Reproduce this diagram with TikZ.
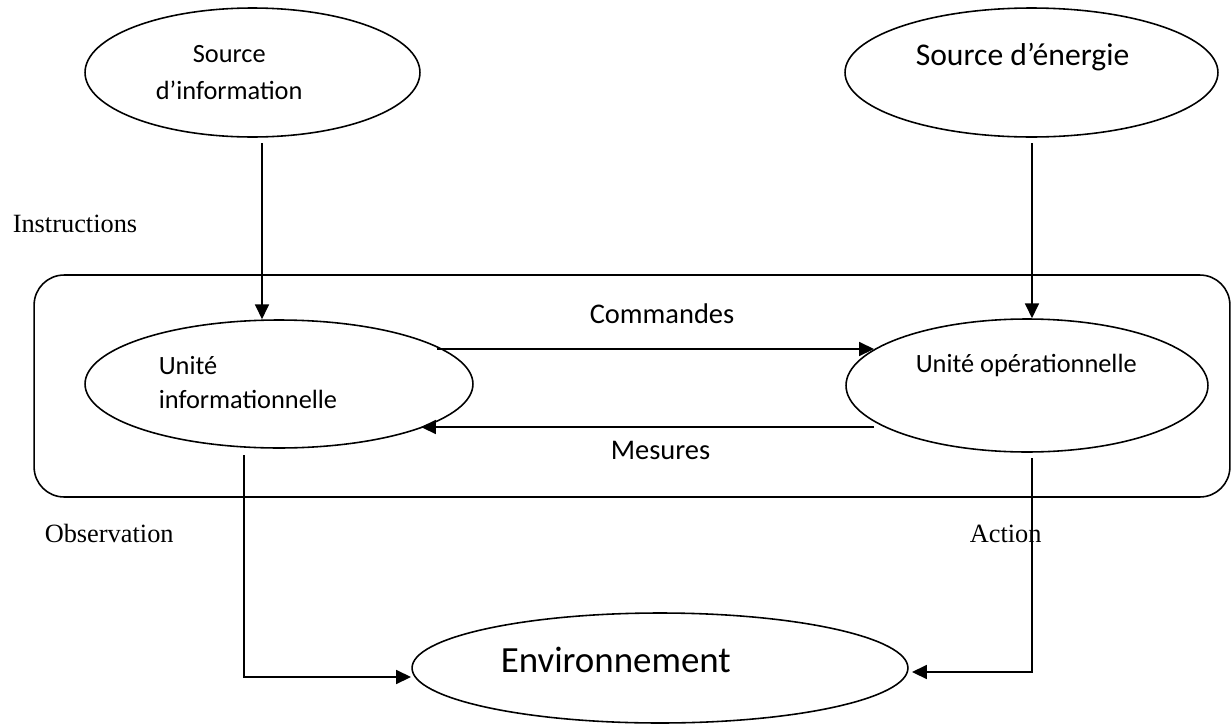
\documentclass[tikz,border=0pt]{standalone}
\usepackage{fontspec}
\setmainfont{Carlito}
\newfontfamily\timesf{Liberation Serif}
\usetikzlibrary{shapes.geometric,arrows.meta}
\begin{document}
\begin{tikzpicture}[x=0.02cm,y=-0.02cm,
  line width=0.9pt,
  oval/.style={draw,ellipse,inner sep=0pt},
  lbl/.style={anchor=base west,inner sep=0pt,font=\fontsize{15}{18}\selectfont},
  mlbl/.style={anchor=base west,inner sep=0pt,font=\fontsize{16.2}{19}\selectfont},
  tlbl/.style={anchor=base west,inner sep=0pt,font=\timesf\fontsize{15}{18}\selectfont},
  arr/.style={-{Triangle[length=8.5pt,width=8pt]}}]
\useasboundingbox (0,0) rectangle (1232,724);

% system frame
\node[draw,rounded corners=0.6cm,minimum width=23.92cm,minimum height=4.44cm,inner sep=0pt] (sys) at (632,386) {};

% ellipses
\node[oval,minimum width=6.70cm,minimum height=2.58cm] (si) at (252.5,72.5) {};
\node[oval,minimum width=7.46cm,minimum height=2.58cm] (se) at (1031.5,72.5) {};
\node[oval,minimum width=7.76cm,minimum height=2.56cm] (ui) at (279,384) {};
\node[oval,minimum width=7.24cm,minimum height=2.66cm] (uo) at (1027,385.5) {};
\node[oval,minimum width=9.92cm,minimum height=2.2cm] (env) at (660,668) {};

% texts
\node[lbl] (si1) at (192,62) {Source};
\node[lbl] (si2) at (155,99) {d’information};
\node[lbl,font=\fontsize{18}{21}\selectfont] (set) at (915,65) {Source d’énergie};
\node[lbl] (ui1) at (158,374) {Unité};
\node[lbl] (ui2) at (158,408) {informationnelle};
\node[lbl] (uot) at (915,372) {Unité opérationnelle};
\node[mlbl] (cmd) at (589,323) {Commandes};
\node[mlbl] (mes) at (610,459) {Mesures};
\node[lbl,font=\fontsize{21}{25}\selectfont] (envt) at (500,672) {Environnement};
\node[tlbl] (instr) at (12,232) {Instructions};
\node[tlbl] (obs) at (44,542) {Observation};
\node[tlbl] (act) at (969,542) {Action};

% connector end points
\coordinate (siout) at (262,143);
\coordinate (seout) at (1032,143);
\coordinate (cmdA) at (437,349);
\coordinate (cmdB) at (874,349);
\coordinate (mesA) at (874,427);
\coordinate (mesB) at (421,427);
\coordinate (obsA) at (244,455);
\coordinate (obsB) at (411,677);
\coordinate (actA) at (1032,458);
\coordinate (actB) at (912,672);

% connectors
\draw[arr] (siout) -- (siout |- ui.north);
\draw[arr] (seout) -- (seout |- uo.north);
\draw[arr] (cmdA) -- (cmdB);
\draw[arr] (mesA) -- (mesB);
\draw[arr] (obsA) |- (obsB);
\draw[arr] (actA) |- (actB);
\end{tikzpicture}
\end{document}
